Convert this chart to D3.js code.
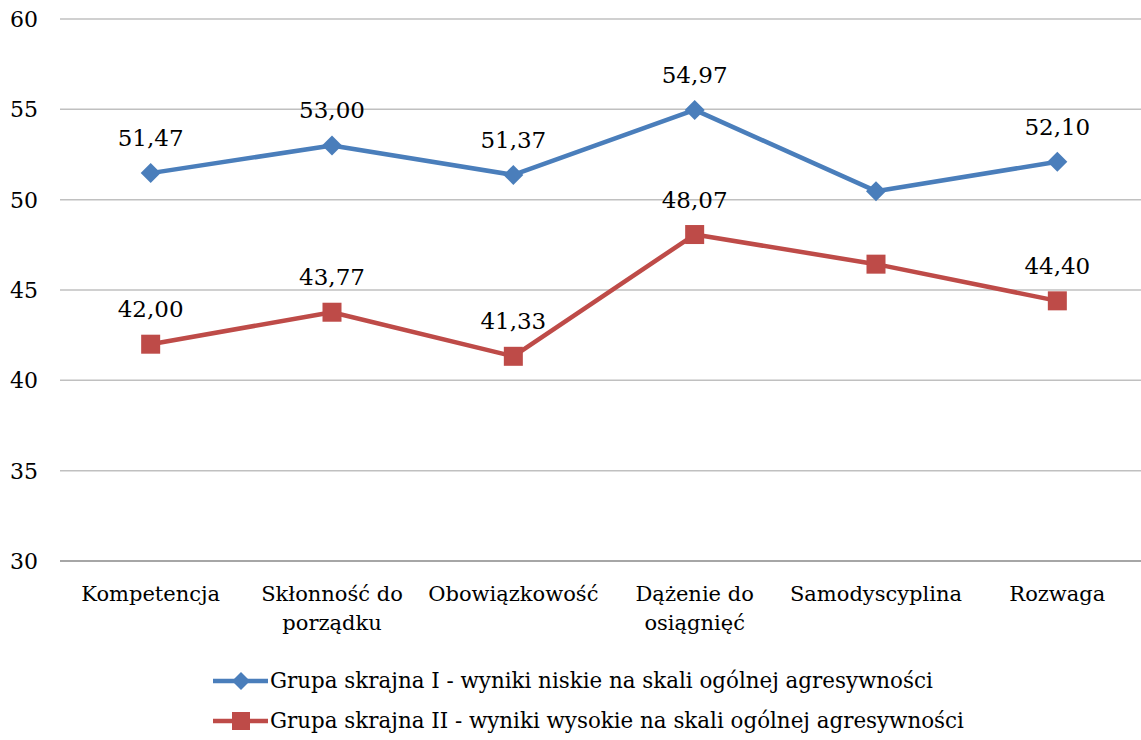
<!DOCTYPE html>
<html>
<head>
<meta charset="utf-8">
<script src="https://cdn.jsdelivr.net/npm/d3@7"></script>
<style>
  body { margin: 0; background: #fff; }
  text { font-family: "DejaVu Serif", "Liberation Serif", serif; }
</style>
</head>
<body>
<svg id="chart" width="1141" height="740"></svg>
<script>
// Chart data
const categories = [
  ['Kompetencja'],
  ['Skłonność do', 'porządku'],
  ['Obowiązkowość'],
  ['Dążenie do', 'osiągnięć'],
  ['Samodyscyplina'],
  ['Rozwaga']
];
const seriesNames = [
  'Grupa skrajna I - wyniki niskie na skali ogólnej agresywności',
  'Grupa skrajna II - wyniki wysokie na skali ogólnej agresywności'
];
const lowGroup = [51.47, 53.00, 51.37, 54.97, 50.47, 52.10];
const highGroup = [42.00, 43.77, 41.33, 48.07, 46.43, 44.40];
// Samodyscyplina has no labels in the original
const showLabel = [true, true, true, true, false, true];
const yTicks = [30, 35, 40, 45, 50, 55, 60];

const svg = d3.select('#chart');
const margin = { top: 19, left: 60, right: -7, bottom: 179 };
const width = 1141, height = 740;

const x = d3.scaleBand()
  .domain(d3.range(categories.length))
  .range([margin.left, width - margin.right]);
const y = d3.scaleLinear()
  .domain([30, 60])
  .range([height - margin.bottom, margin.top]);

// Gridlines
svg.append('g')
  .selectAll('line')
  .data(yTicks.filter(t => t !== 30))
  .join('line')
  .attr('x1', margin.left)
  .attr('x2', width)
  .attr('y1', d => y(d))
  .attr('y2', d => y(d))
  .attr('stroke', '#c0c0c0')
  .attr('stroke-width', 1.5);

// Baseline
svg.append('line')
  .attr('x1', margin.left)
  .attr('x2', width)
  .attr('y1', y(30))
  .attr('y2', y(30))
  .attr('stroke', '#898989')
  .attr('stroke-width', 1.5);

// Y tick labels
svg.append('g')
  .selectAll('text')
  .data(yTicks)
  .join('text')
  .attr('x', 38)
  .attr('y', d => y(d) + 8)
  .attr('text-anchor', 'end')
  .attr('font-size', 22)
  .text(d => d);

// Category labels
const catG = svg.append('g')
  .selectAll('text')
  .data(categories)
  .join('text')
  .attr('text-anchor', 'middle')
  .attr('font-size', 21)
  .attr('transform', (d, i) => `translate(${x(i) + x.bandwidth() / 2},601)`);
catG.selectAll('tspan')
  .data(d => d)
  .join('tspan')
  .attr('x', 0)
  .attr('dy', (d, i) => i === 0 ? 0 : 29)
  .text(d => d);

const cx = i => x(i) + x.bandwidth() / 2;
const line = d3.line()
  .x((d, i) => cx(i))
  .y(d => y(d));

const blue = '#4a7ebb';
const red = '#be4b48';

function diamond(sel, s) {
  sel.attr('d', `M0,${-s}L${s},0L0,${s}L${-s},0Z`);
}

// Series I
svg.append('path')
  .datum(lowGroup)
  .attr('d', line)
  .attr('fill', 'none')
  .attr('stroke', blue)
  .attr('stroke-width', 4.5)
  .attr('stroke-linejoin', 'round');
svg.append('g')
  .selectAll('path')
  .data(lowGroup)
  .join('path')
  .attr('transform', (d, i) => `translate(${cx(i)},${y(d)})`)
  .call(diamond, 10)
  .attr('fill', blue);

// Series II
svg.append('path')
  .datum(highGroup)
  .attr('d', line)
  .attr('fill', 'none')
  .attr('stroke', red)
  .attr('stroke-width', 4.5)
  .attr('stroke-linejoin', 'round');
svg.append('g')
  .selectAll('rect')
  .data(highGroup)
  .join('rect')
  .attr('x', (d, i) => cx(i) - 9.5)
  .attr('y', d => y(d) - 9.5)
  .attr('width', 19)
  .attr('height', 19)
  .attr('fill', red);

// Data labels
const fmt = v => v.toFixed(2).replace('.', ',');
[lowGroup, highGroup].forEach(series => {
  svg.append('g')
    .selectAll('text')
    .data(series.map((v, i) => ({ v, i })).filter(d => showLabel[d.i]))
    .join('text')
    .attr('x', d => cx(d.i))
    .attr('y', d => y(d.v) - 27)
    .attr('text-anchor', 'middle')
    .attr('font-size', 23)
    .text(d => fmt(d.v));
});

// Legend
const legend = svg.append('g');
const legendY = [681, 721];
[blue, red].forEach((c, k) => {
  const g = legend.append('g').attr('transform', `translate(0,${legendY[k]})`);
  g.append('line')
    .attr('x1', 213).attr('x2', 268)
    .attr('stroke', c).attr('stroke-width', 4.5);
  if (k === 0) {
    g.append('path').attr('transform', 'translate(241,0)').call(diamond, 9).attr('fill', c);
  } else {
    g.append('rect').attr('x', 232).attr('y', -9).attr('width', 18).attr('height', 18).attr('fill', c);
  }
  g.append('text')
    .attr('x', 270)
    .attr('y', 7)
    .attr('font-size', 21.4)
    .text(seriesNames[k]);
});
</script>
</body>
</html>
